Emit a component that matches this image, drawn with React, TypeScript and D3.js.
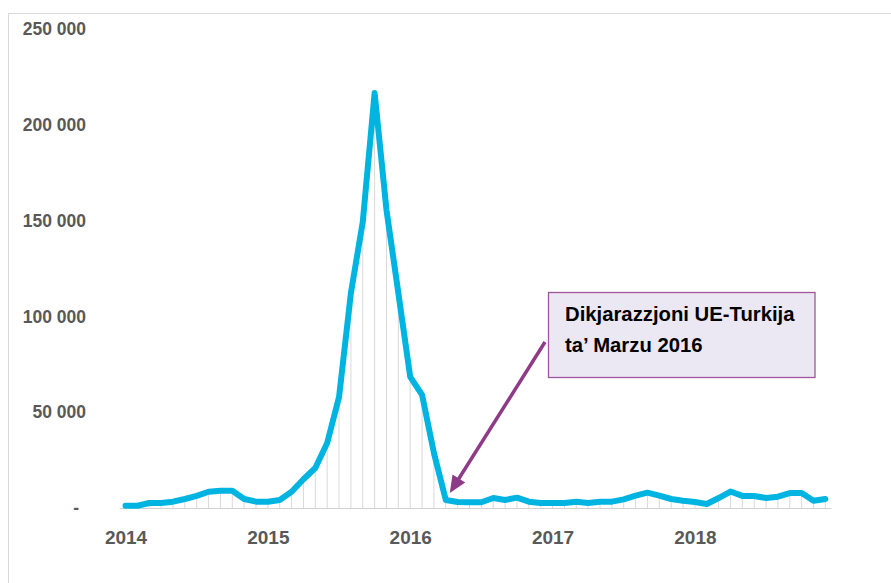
import React from "react";
import * as d3 from "d3";

const years = ["2014", "2015", "2016", "2017", "2018"];
const values2014 = [1200, 1200, 2600, 2600, 3300, 4700, 6300, 8500, 9000, 9000, 4700, 3300];
const values2015 = [3300, 4200, 8500, 15000, 20900, 33900, 57900, 112200, 149300, 216600, 155500, 112200];
const values2016 = [68400, 59000, 28700, 4200, 3100, 3000, 3000, 5200, 4200, 5400, 3300, 2600];
const values2017 = [2600, 2600, 3300, 2600, 3300, 3300, 4500, 6500, 8000, 6500, 4700, 3800];
const values2018 = [3100, 2100, 5200, 8600, 6300, 6300, 5200, 5900, 7800, 7800, 3800, 4700];
const yTicks = [0, 50000, 100000, 150000, 200000, 250000];
const yTickLabels = ["-", "50 000", "100 000", "150 000", "200 000", "250 000"];
const annotationLines = ["Dikjarazzjoni UE-Turkija", "ta\u2019 Marzu 2016"];
const annotationIndex = 27;

const W = 891;
const H = 583;

export default function App() {
  const series = [values2014, values2015, values2016, values2017, values2018];
  const data = series.flatMap((vals, yi) =>
    vals.map((v, mi) => ({ key: `${years[yi]}-${mi + 1}`, year: years[yi], month: mi, value: v }))
  );
  const x = d3
    .scalePoint<string>()
    .domain(data.map((d) => d.key))
    .range([119.6, 831.3])
    .padding(0.5);
  const y = d3.scaleLinear().domain([0, 250000]).range([508, 29]);

  const line = d3
    .line<(typeof data)[number]>()
    .x((d) => x(d.key)!)
    .y((d) => y(d.value));

  const font = "'Liberation Sans', Arial, sans-serif";

  // arrow
  const target = data[annotationIndex];
  const tipX = x(target.key)! + 4;
  const tipY = y(target.value) - 7;
  const startX = 545;
  const startY = 342;
  const dx = tipX - startX;
  const dy = tipY - startY;
  const len = Math.sqrt(dx * dx + dy * dy);
  const ux = dx / len;
  const uy = dy / len;
  const headLen = 17;
  const headHalf = 7.5;
  const bx = tipX - ux * headLen;
  const by = tipY - uy * headLen;
  const px = -uy;
  const py = ux;
  const head = `${tipX},${tipY} ${bx + px * headHalf},${by + py * headHalf} ${bx - px * headHalf},${by - py * headHalf}`;

  return (
    <svg
      width={W}
      height={H}
      style={{ position: "absolute", left: 0, top: 0, background: "#fff" }}
    >
      <rect x={8.5} y={13.5} width={W + 20} height={H + 20} fill="#fff" stroke="#d9d9d9" strokeWidth={1} />
      {/* drop lines */}
      {data.map((d) => (
        <line
          key={"drop" + d.key}
          x1={x(d.key)}
          x2={x(d.key)}
          y1={y(d.value)}
          y2={y(0)}
          stroke="#d9d9d9"
          strokeWidth={1}
        />
      ))}
      {/* baseline */}
      <line x1={119.6} x2={831.3} y1={y(0) + 0.5} y2={y(0) + 0.5} stroke="#d0d0d0" strokeWidth={1} />
      {/* y labels */}
      {yTicks.map((t, i) => (
        <text
          key={"yt" + t}
          x={t === 0 ? 79 : 86}
          y={y(t)}
          dy="0.35em"
          textAnchor="end"
          fontFamily={font}
          fontWeight="bold"
          fontSize={17.5}
          fill="#595959"
        >
          {yTickLabels[i]}
        </text>
      ))}
      {/* x labels */}
      {data
        .filter((d) => d.month === 0)
        .map((d) => (
          <text
            key={"xl" + d.key}
            x={x(d.key)! + 0.5}
            y={544}
            textAnchor="middle"
            fontFamily={font}
            fontWeight="bold"
            fontSize={19}
            fill="#595959"
          >
            {d.year}
          </text>
        ))}
      {/* series line */}
      <path
        d={line(data)!}
        fill="none"
        stroke="#00b4e2"
        strokeWidth={6}
        strokeLinejoin="round"
        strokeLinecap="round"
      />
      {/* annotation box */}
      <rect x={548.5} y={292.5} width={266.5} height={85} fill="#ebe8f4" stroke="#a0559c" strokeWidth={1.3} />
      {annotationLines.map((t, i) => (
        <text
          key={"an" + i}
          x={565}
          y={321 + i * 31}
          fontFamily={font}
          fontWeight="bold"
          fontSize={20.3}
          fill="#000"
        >
          {t}
        </text>
      ))}
      {/* arrow */}
      <line x1={startX} y1={startY} x2={bx + ux * 2} y2={by + uy * 2} stroke="#8e3a87" strokeWidth={3.5} />
      <polygon points={head} fill="#8e3a87" />
    </svg>
  );
}
